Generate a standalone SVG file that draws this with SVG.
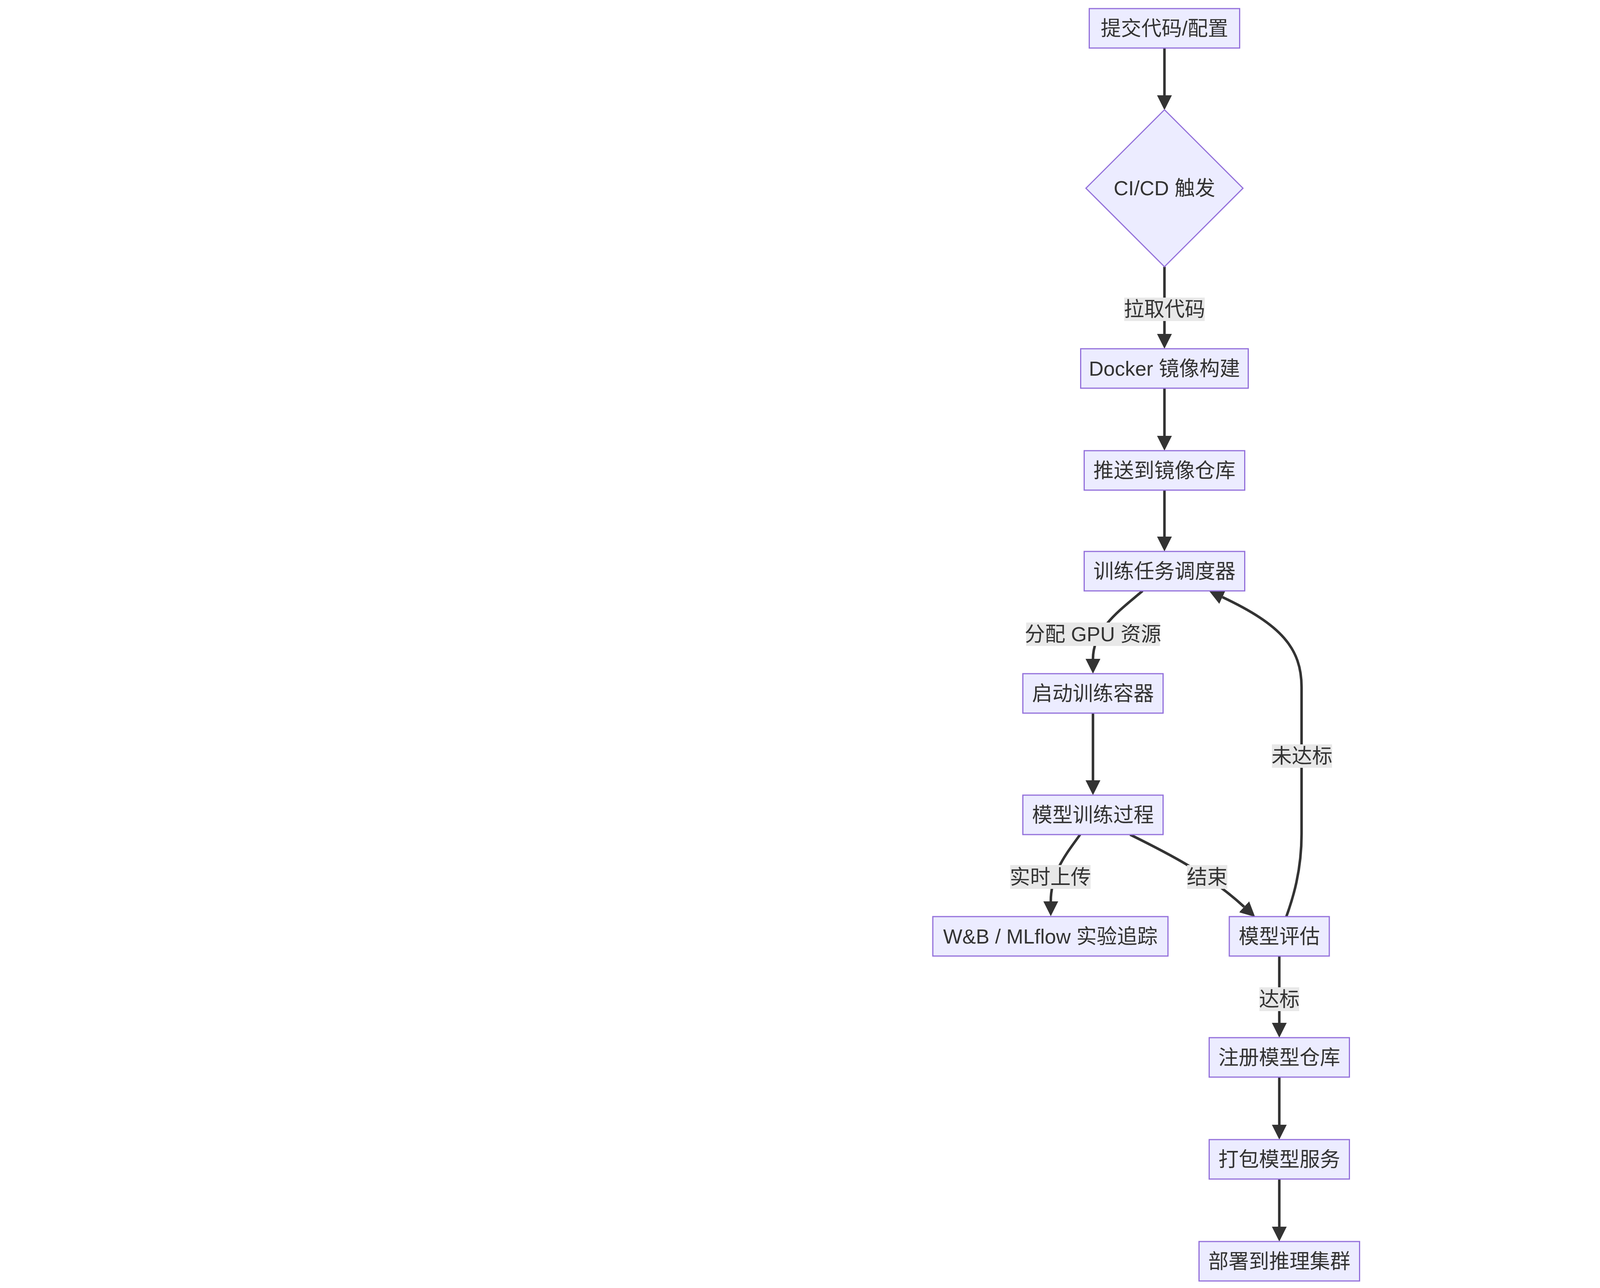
<svg xmlns="http://www.w3.org/2000/svg" width="5866" height="3298" viewBox="0 0 5866 3298">
<style>
.node{fill:#ECECFF;stroke:#9370DB;stroke-width:3}
.edge{fill:none;stroke:#333333;stroke-width:6.5}
.lbg{fill:#e8e8e8;stroke:none}
text{font-family:"Liberation Sans","Noto Sans CJK SC",sans-serif;font-size:52px;fill:#333333;text-anchor:middle;dominant-baseline:central}
</style>
<defs>
<marker id="arrow" viewBox="0 0 10 10" refX="0" refY="5" markerUnits="userSpaceOnUse" markerWidth="38" markerHeight="38" orient="auto">
<path d="M0,0 L10,5 L0,10 z" fill="#333333"/>
</marker>
</defs>
<rect x="0" y="0" width="5866" height="3298" fill="#ffffff"/>
<g id="connectors">
<path class="edge" marker-end="url(#arrow)" d="M2981,123 L2981,244"/>
<path class="edge" marker-end="url(#arrow)" d="M2981,683 L2981,855"/>
<path class="edge" marker-end="url(#arrow)" d="M2981,994 L2981,1116"/>
<path class="edge" marker-end="url(#arrow)" d="M2981,1255 L2981,1374"/>
<path class="edge" marker-end="url(#arrow)" d="M2925,1513 C2870,1560 2798,1610 2798,1687"/>
<path class="edge" marker-end="url(#arrow)" d="M2798,1826 L2798,1998"/>
<path class="edge" marker-end="url(#arrow)" d="M2765,2137 C2735,2180 2690,2230 2690,2308"/>
<path class="edge" marker-end="url(#arrow)" d="M2893,2137 C2990,2185 3090,2235 3185,2322"/>
<path class="edge" marker-end="url(#arrow)" d="M3293,2347 C3310,2300 3332,2230 3332,2135 L3332,1760 C3332,1660 3280,1600 3129.5,1529"/>
<path class="edge" marker-end="url(#arrow)" d="M3275,2448 L3275,2619"/>
<path class="edge" marker-end="url(#arrow)" d="M3275,2758 L3275,2880"/>
<path class="edge" marker-end="url(#arrow)" d="M3275,3019 L3275,3141"/>
</g>
<g id="edge-labels">
<g id="label-pull"><rect class="lbg" x="2878" y="762" width="206" height="60"/><text x="2981" y="792">拉取代码</text></g>
<g id="label-gpu"><rect class="lbg" x="2627" y="1594" width="342" height="60"/><text x="2798" y="1624">分配 GPU 资源</text></g>
<g id="label-upload"><rect class="lbg" x="2586" y="2215" width="206" height="61"/><text x="2689" y="2245.5">实时上传</text></g>
<g id="label-end"><rect class="lbg" x="3039" y="2215" width="103" height="61"/><text x="3090.5" y="2245.5">结束</text></g>
<g id="label-fail"><rect class="lbg" x="3256" y="1906" width="154" height="60"/><text x="3333" y="1936">未达标</text></g>
<g id="label-pass"><rect class="lbg" x="3224" y="2528" width="102" height="61"/><text x="3275" y="2558.5">达标</text></g>
</g>
<g id="node-commit"><rect class="node" x="2788.5" y="22" width="385" height="101"/><text x="2981" y="72.5">提交代码/配置</text></g>
<g id="node-cicd"><polygon class="node" points="2981,281 3182,482 2981,683 2780,482"/><text x="2981" y="482">CI/CD 触发</text></g>
<g id="node-docker"><rect class="node" x="2766.5" y="893" width="429" height="101"/><text x="2981" y="943.5">Docker 镜像构建</text></g>
<g id="node-push"><rect class="node" x="2775.5" y="1154" width="411" height="101"/><text x="2981" y="1204.5">推送到镜像仓库</text></g>
<g id="node-scheduler"><rect class="node" x="2775.5" y="1412" width="411" height="101"/><text x="2981" y="1462.5">训练任务调度器</text></g>
<g id="node-container"><rect class="node" x="2618.5" y="1725" width="359" height="101"/><text x="2798" y="1775.5">启动训练容器</text></g>
<g id="node-training"><rect class="node" x="2618.5" y="2036" width="359" height="101"/><text x="2798" y="2086.5">模型训练过程</text></g>
<g id="node-tracking"><rect class="node" x="2388" y="2347" width="602" height="101"/><text x="2689" y="2397.5">W&amp;B / MLflow 实验追踪</text></g>
<g id="node-eval"><rect class="node" x="3147" y="2347" width="256" height="101"/><text x="3275" y="2397.5">模型评估</text></g>
<g id="node-register"><rect class="node" x="3095.5" y="2657" width="359" height="101"/><text x="3275" y="2707.5">注册模型仓库</text></g>
<g id="node-package"><rect class="node" x="3095.5" y="2918" width="359" height="101"/><text x="3275" y="2968.5">打包模型服务</text></g>
<g id="node-deploy"><rect class="node" x="3069.5" y="3179" width="411" height="101"/><text x="3275" y="3229.5">部署到推理集群</text></g>
</svg>
